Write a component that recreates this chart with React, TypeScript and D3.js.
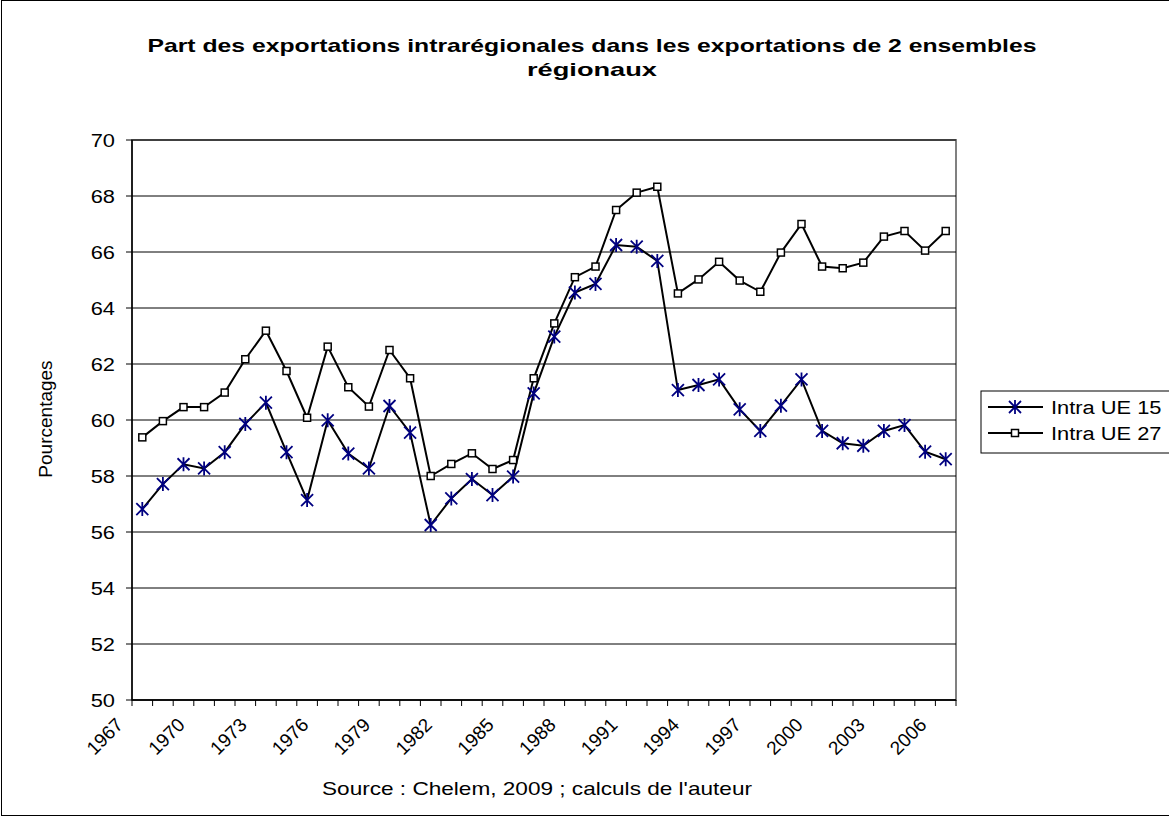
import * as React from "react";
import { scaleLinear, scaleBand, line as d3Line, range } from "d3";

// years 1967 .. 2006
const years: number[] = [
  1967, 1968, 1969, 1970, 1971, 1972, 1973, 1974, 1975, 1976,
  1977, 1978, 1979, 1980, 1981, 1982, 1983, 1984, 1985, 1986,
  1987, 1988, 1989, 1990, 1991, 1992, 1993, 1994, 1995, 1996,
  1997, 1998, 1999, 2000, 2001, 2002, 2003, 2004, 2005, 2006,
];

const intraUE15: number[] = [
  56.82, 57.71, 58.42, 58.27, 58.85, 59.86, 60.62, 58.85, 57.14, 59.99,
  58.8, 58.27, 60.5, 59.55, 56.25, 57.2, 57.89, 57.32, 57.98, 60.95,
  62.98, 64.55, 64.86, 66.25, 66.19, 65.68, 61.07, 61.25, 61.45, 60.38,
  59.61, 60.51, 61.45, 59.61, 59.17, 59.08, 59.61, 59.82, 58.87, 58.6,
];

const intraUE27: number[] = [
  59.38, 59.96, 60.46, 60.46, 60.98, 62.17, 63.19, 61.75, 60.08, 62.62,
  61.17, 60.48, 62.5, 61.49, 58.0, 58.43, 58.81, 58.25, 58.57, 61.49,
  63.45, 65.1, 65.48, 67.5, 68.12, 68.33, 64.52, 65.02, 65.65, 64.98,
  64.58, 65.98, 67.0, 65.48, 65.42, 65.62, 66.55, 66.75, 66.05, 66.75,
];

const yTicks: number[] = [50, 52, 54, 56, 58, 60, 62, 64, 66, 68, 70];
const xLabelYears: number[] = [
  1967, 1970, 1973, 1976, 1979, 1982, 1985, 1988, 1991, 1994, 1997, 2000, 2003, 2006,
];

const seriesNames = ["Intra UE 15", "Intra UE 27"];

const W = 1169;
const H = 820;
const plot = { left: 132, right: 956, top: 140, bottom: 700 };
const FONT = "Arial, 'Liberation Sans', sans-serif";
const FS = 19; // text size
const SX = 1.15; // the picture is a bit wider than tall

// text drawn with the same horizontal stretch as the reference picture
const SText = ({
  x,
  y,
  anchor = "start",
  dy,
  children,
}: {
  x: number;
  y: number;
  anchor?: string;
  dy?: string;
  children: React.ReactNode;
}) => (
  <text
    transform={`translate(${x},${y}) scale(${SX},1)`}
    textAnchor={anchor}
    dy={dy}
    fontSize={FS}
  >
    {children}
  </text>
);

const Star = ({ x, y, r = 6 }: { x: number; y: number; r?: number }) => (
  <path
    d={`M${x - r},${y - r}L${x + r},${y + r}M${x - r},${y + r}L${x + r},${y - r}M${x},${y - r - 1}L${x},${y + r + 1}`}
    stroke="#000080"
    strokeWidth={1.8}
    fill="none"
  />
);

const Square = ({ x, y }: { x: number; y: number }) => (
  <rect
    x={x - 3.5}
    y={y - 3.5}
    width={7}
    height={7}
    fill="#fff"
    stroke="#000"
    strokeWidth={1.5}
  />
);

const App = () => {
  const x = scaleBand<number>()
    .domain(years)
    .range([plot.left, plot.right]);
  const y = scaleLinear().domain([50, 70]).range([plot.bottom, plot.top]);
  const cx = (yr: number) => (x(yr) as number) + x.bandwidth() / 2;

  const line = d3Line<number>()
    .x((_, i) => cx(years[i]))
    .y((d) => y(d));

  const boundaries = range(years.length + 1).map(
    (i) => plot.left + i * x.bandwidth()
  );

  return (
    <svg
      width={W}
      height={H}
      style={{ position: "absolute", left: 0, top: 0, background: "#fff" }}
      fontFamily={FONT}
    >
      <rect x={1.5} y={0.5} width={W + 10} height={815} fill="#fff" stroke="#000" strokeWidth={1} />

      {/* title */}
      <text x={592} y={52} textAnchor="middle" fontSize={FS} fontWeight="bold" textLength={889} lengthAdjust="spacingAndGlyphs">
        Part des exportations intrarégionales dans les exportations de 2 ensembles
      </text>
      <text x={592} y={76} textAnchor="middle" fontSize={FS} fontWeight="bold" textLength={130} lengthAdjust="spacingAndGlyphs">
        régionaux
      </text>

      {/* plot area */}
      <rect
        x={plot.left}
        y={plot.top}
        width={plot.right - plot.left}
        height={plot.bottom - plot.top}
        fill="#fff"
        stroke="#808080"
        strokeWidth={2}
      />
      {yTicks.map((t) => (
        <g key={t}>
          <line x1={plot.left - 6} x2={plot.right} y1={y(t)} y2={y(t)} stroke="#000" strokeWidth={1} />
          <SText x={115} y={y(t)} dy="0.36em" anchor="end">
            {t}
          </SText>
        </g>
      ))}
      <line x1={plot.left} x2={plot.left} y1={plot.top} y2={plot.bottom} stroke="#000" strokeWidth={1.5} />
      <line x1={plot.left} x2={plot.right} y1={plot.bottom} y2={plot.bottom} stroke="#000" strokeWidth={1.5} />
      {boundaries.map((bx, i) => (
        <line key={i} x1={bx} x2={bx} y1={plot.bottom} y2={plot.bottom + 6} stroke="#000" strokeWidth={1} />
      ))}
      {xLabelYears.map((yr) => (
        <text
          key={yr}
          transform={`translate(${cx(yr) - 18},${726}) rotate(-45)`}
          textAnchor="end"
          fontSize={FS}
        >
          {yr}
        </text>
      ))}

      {/* series */}
      <path d={line(intraUE15) || ""} fill="none" stroke="#000" strokeWidth={2} />
      <path d={line(intraUE27) || ""} fill="none" stroke="#000" strokeWidth={2} />
      {intraUE15.map((v, i) => (
        <Star key={"s" + i} x={cx(years[i])} y={y(v)} />
      ))}
      {intraUE27.map((v, i) => (
        <Square key={"q" + i} x={cx(years[i])} y={y(v)} />
      ))}

      {/* axis titles */}
      <text transform="translate(52,419) rotate(-90)" textAnchor="middle" fontSize={FS}>
        Pourcentages
      </text>
      <text x={537} y={795} textAnchor="middle" fontSize={FS} textLength={430} lengthAdjust="spacingAndGlyphs">
        Source : Chelem, 2009 ; calculs de l'auteur
      </text>

      {/* legend */}
      <rect x={981} y={391} width={200} height={62} fill="#fff" stroke="#000" strokeWidth={1} />
      <line x1={988} x2={1043} y1={407} y2={407} stroke="#000" strokeWidth={2} />
      <Star x={1015} y={407} />
      <SText x={1051} y={407} dy="0.36em">
        {seriesNames[0]}
      </SText>
      <line x1={988} x2={1043} y1={433} y2={433} stroke="#000" strokeWidth={2} />
      <Square x={1015} y={433} />
      <SText x={1051} y={433} dy="0.36em">
        {seriesNames[1]}
      </SText>
    </svg>
  );
};

export default App;
